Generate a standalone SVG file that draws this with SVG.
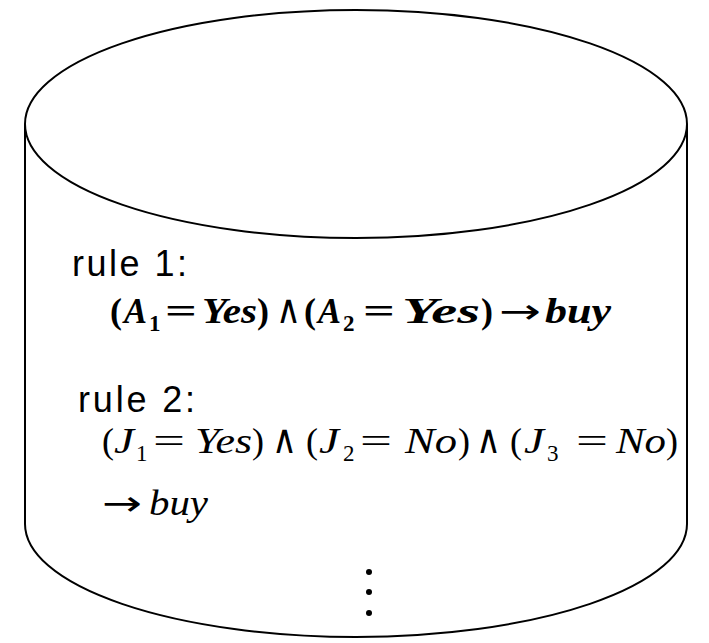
<svg xmlns="http://www.w3.org/2000/svg" width="709" height="643" viewBox="0 0 709 643">
<style>
.shape{fill:none;stroke:#000;stroke-width:2}
.lbl{font-family:"Liberation Sans",Arial,sans-serif;font-size:36px;fill:#000}
.m{font-family:"Liberation Serif","Times New Roman",serif;font-size:36px;fill:#000}
.mb{font-family:"Liberation Serif","Times New Roman",serif;font-size:36px;font-weight:bold;fill:#000}
.i{font-style:italic}
.sub{font-size:23px}
.sym{font-family:"DejaVu Sans",sans-serif;font-weight:normal;font-style:normal}
.and{font-family:"DejaVu Sans",sans-serif;font-weight:normal;font-style:normal;font-size:40px}
</style>
<rect width="709" height="643" fill="#fff"/>
<g id="cylinder">
<ellipse class="shape" cx="356" cy="124" rx="331" ry="114"/>
<path class="shape" d="M25,124 L25,524 A331,113 0 0 0 687,524 L687,124"/>
</g>
<g id="rule1">
<text class="lbl" x="72" y="276" textLength="115" lengthAdjust="spacing">rule 1:</text>
<g class="mb">
<text x="110" y="323">(</text>
<text x="124" y="323" class="i" textLength="23" lengthAdjust="spacingAndGlyphs">A</text>
<text x="149" y="331" class="sub">1</text>
<text x="165" y="323" textLength="32" lengthAdjust="spacingAndGlyphs">=</text>
<text x="202" y="323" class="i" textLength="55" lengthAdjust="spacingAndGlyphs">Yes</text>
<text x="257" y="323">)</text>
<text x="276" y="323" class="and" textLength="25" lengthAdjust="spacingAndGlyphs">∧</text>
<text x="304" y="323">(</text>
<text x="318" y="323" class="i" textLength="23" lengthAdjust="spacingAndGlyphs">A</text>
<text x="343" y="331" class="sub">2</text>
<text x="363" y="323" textLength="32" lengthAdjust="spacingAndGlyphs">=</text>
<text x="402" y="323" class="i" textLength="78" lengthAdjust="spacingAndGlyphs">Yes</text>
<text x="481" y="323">)</text>
<text x="499" y="323" class="sym" font-size="34" textLength="42" lengthAdjust="spacingAndGlyphs">→</text>
<text x="545" y="323" class="i" textLength="66" lengthAdjust="spacingAndGlyphs">buy</text>
</g>
</g>
<g id="rule2">
<text class="lbl" x="78" y="412" textLength="117" lengthAdjust="spacing">rule 2:</text>
<g class="m">
<text x="102" y="453">(</text>
<text x="114" y="453" class="i" textLength="20" lengthAdjust="spacingAndGlyphs">J</text>
<text x="136" y="461" class="sub">1</text>
<text x="153" y="453" textLength="32" lengthAdjust="spacingAndGlyphs">=</text>
<text x="195" y="453" class="i" textLength="57" lengthAdjust="spacingAndGlyphs">Yes</text>
<text x="252" y="453">)</text>
<text x="272" y="453" class="and" textLength="25" lengthAdjust="spacingAndGlyphs">∧</text>
<text x="306" y="453">(</text>
<text x="319" y="453" class="i" textLength="20" lengthAdjust="spacingAndGlyphs">J</text>
<text x="343" y="461" class="sub">2</text>
<text x="360" y="453" textLength="32" lengthAdjust="spacingAndGlyphs">=</text>
<text x="405" y="453" class="i" textLength="52" lengthAdjust="spacingAndGlyphs">No</text>
<text x="458" y="453">)</text>
<text x="476" y="453" class="and" textLength="25" lengthAdjust="spacingAndGlyphs">∧</text>
<text x="510" y="453">(</text>
<text x="524" y="453" class="i" textLength="20" lengthAdjust="spacingAndGlyphs">J</text>
<text x="547" y="461" class="sub">3</text>
<text x="576" y="453" textLength="32" lengthAdjust="spacingAndGlyphs">=</text>
<text x="616" y="453" class="i" textLength="50" lengthAdjust="spacingAndGlyphs">No</text>
<text x="666" y="453">)</text>
<text x="102" y="515" class="sym" font-size="34" textLength="40" lengthAdjust="spacingAndGlyphs">→</text>
<text x="149" y="515" class="i" textLength="59" lengthAdjust="spacingAndGlyphs">buy</text>
</g>
</g>
<g id="ellipsis">
<circle cx="369" cy="572" r="3"/>
<circle cx="369" cy="592" r="3"/>
<circle cx="369" cy="613" r="3"/>
</g>
</svg>
